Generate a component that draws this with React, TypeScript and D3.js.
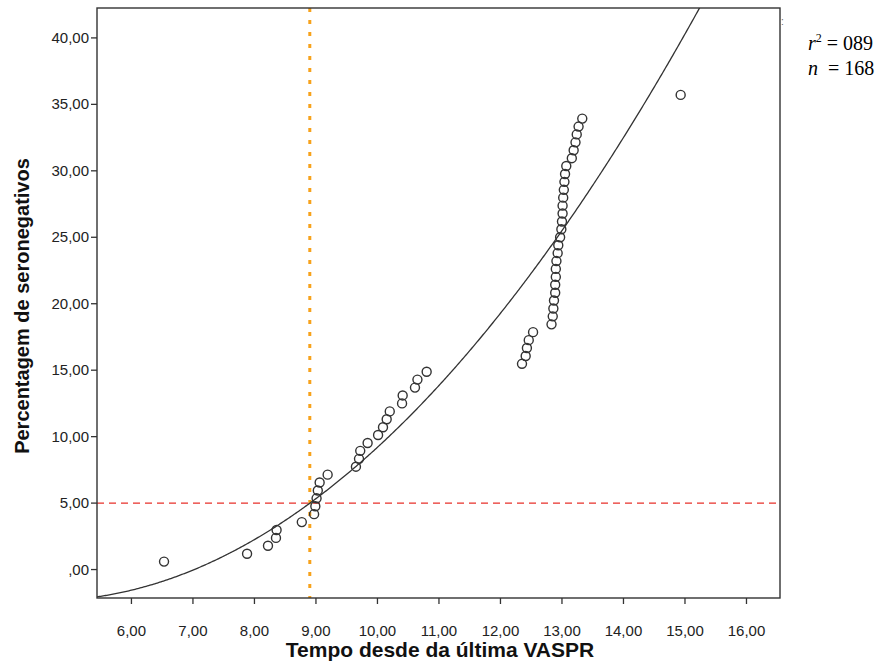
import React from "react";
import * as d3 from "d3";

// Time since last VASPR (years) for each observation
const timeValues: number[] = [
  6.53, 7.88, 8.22, 8.35, 8.36, 8.77, 8.97, 8.99, 9.01, 9.03,
  9.06, 9.19, 9.65, 9.70, 9.72, 9.84, 10.01, 10.09, 10.15, 10.20,
  10.40, 10.41, 10.61, 10.65, 10.80, 12.35, 12.41, 12.43, 12.46, 12.53,
  12.83, 12.85, 12.86, 12.87, 12.89, 12.89, 12.90, 12.90, 12.91, 12.93,
  12.94, 12.97, 12.99, 13.00, 13.01, 13.01, 13.02, 13.03, 13.04, 13.05,
  13.07, 13.16, 13.19, 13.22, 13.24, 13.27, 13.33, 14.93,
];
// Percentage of seronegatives
const seroValues: number[] = [
  0.60, 1.19, 1.79, 2.38, 2.98, 3.57, 4.17, 4.76, 5.36, 5.95,
  6.55, 7.14, 7.74, 8.33, 8.93, 9.52, 10.12, 10.71, 11.31, 11.90,
  12.50, 13.10, 13.69, 14.29, 14.88, 15.48, 16.07, 16.67, 17.26, 17.86,
  18.45, 19.05, 19.64, 20.24, 20.83, 21.43, 22.02, 22.62, 23.21, 23.81,
  24.40, 25.00, 25.60, 26.19, 26.79, 27.38, 27.98, 28.57, 29.17, 29.76,
  30.36, 30.95, 31.55, 32.14, 32.74, 33.33, 33.93, 35.71,
];
// Quadratic fit: a + b x + c x^2
const fitCoefficients: number[] = [5.86, -3.589, 0.3923];
const xTicks: number[] = [6, 7, 8, 9, 10, 11, 12, 13, 14, 15, 16];
const yTicks: number[] = [0, 5, 10, 15, 20, 25, 30, 35, 40];
const refY: number[] = [5];
const refX: number[] = [8.9];
const annotationR2 = "089";
const annotationN = "168";

const W = 886;
const H = 666;
const L = 97, R = 780, T = 8, B = 598;

const fmt = (v: number) => (v === 0 ? ",00" : v.toFixed(2).replace(".", ","));

export default function App() {
  const x = d3.scaleLinear().domain([5.44, 16.545]).range([L, R]);
  const y = d3.scaleLinear().domain([-2.14, 42.25]).range([B, T]);
  const [a, b, c] = fitCoefficients;
  const xs = d3.range(5.44, 16.6, 0.02);
  const curve = d3
    .line<number>()
    .x((v) => x(v))
    .y((v) => y(a + b * v + c * v * v))(xs);
  const font = "'Liberation Sans', Arial, sans-serif";
  const serif = "'Liberation Serif', 'Times New Roman', serif";
  return (
    <svg
      width={W}
      height={H}
      style={{ position: "absolute", left: 0, top: 0, background: "#fff" }}
    >
      <defs>
        <clipPath id="plot">
          <rect x={L} y={T} width={R - L} height={B - T} />
        </clipPath>
      </defs>
      <rect x={0} y={0} width={W} height={H} fill="#fff" />
      <g clipPath="url(#plot)">
        {refY.map((v, i) => (
          <line key={"ry" + i} x1={L} x2={R} y1={y(v)} y2={y(v)} stroke="#e8302a" strokeWidth={1.2} strokeDasharray="7 5" />
        ))}
        {refX.map((v, i) => (
          <line key={"rx" + i} x1={x(v)} x2={x(v)} y1={T} y2={B} stroke="#f7a21b" strokeWidth={3} strokeDasharray="4 8" />
        ))}
        <path d={curve || ""} fill="none" stroke="#333" strokeWidth={1.3} />
        {timeValues.map((t, i) => (
          <circle key={i} cx={x(t)} cy={y(seroValues[i])} r={4.5} fill="none" stroke="#333" strokeWidth={1.4} />
        ))}
      </g>
      <rect x={L} y={T} width={R - L} height={B - T} fill="none" stroke="#333" strokeWidth={1.4} />
      {yTicks.map((v) => (
        <g key={"yt" + v}>
          <line x1={L - 6} x2={L} y1={y(v)} y2={y(v)} stroke="#333" strokeWidth={1.3} />
          <text x={L - 8} y={y(v) + 5} textAnchor="end" fontFamily={font} fontSize={15} fill="#222">
            {fmt(v)}
          </text>
        </g>
      ))}
      {xTicks.map((v) => (
        <g key={"xt" + v}>
          <line x1={x(v)} x2={x(v)} y1={B} y2={B + 6} stroke="#333" strokeWidth={1.3} />
          <text x={x(v)} y={B + 38} textAnchor="middle" fontFamily={font} fontSize={15} fill="#222">
            {fmt(v)}
          </text>
        </g>
      ))}
      <text x={440} y={657} textAnchor="middle" fontFamily={font} fontSize={21} fontWeight="bold" fill="#111">
        Tempo desde da última VASPR
      </text>
      <text
        transform={`translate(29, 306) rotate(-90)`}
        textAnchor="middle"
        fontFamily={font}
        fontSize={20}
        fontWeight="bold"
        fill="#111"
      >
        Percentagem de seronegativos
      </text>
      <text x={781} y={25} fontFamily={font} fontSize={10} fill="#666">:</text>
      <text x={808} y={50} fontFamily={serif} fontSize={20} fill="#000">
        <tspan fontStyle="italic">r</tspan>
        <tspan dy={-8} fontSize={12}>2</tspan>
        <tspan dy={8}>{" = " + annotationR2}</tspan>
      </text>
      <text x={808} y={75} fontFamily={serif} fontSize={20} fill="#000">
        <tspan fontStyle="italic">n</tspan>
        <tspan>{"\u00a0 = " + annotationN}</tspan>
      </text>
    </svg>
  );
}
